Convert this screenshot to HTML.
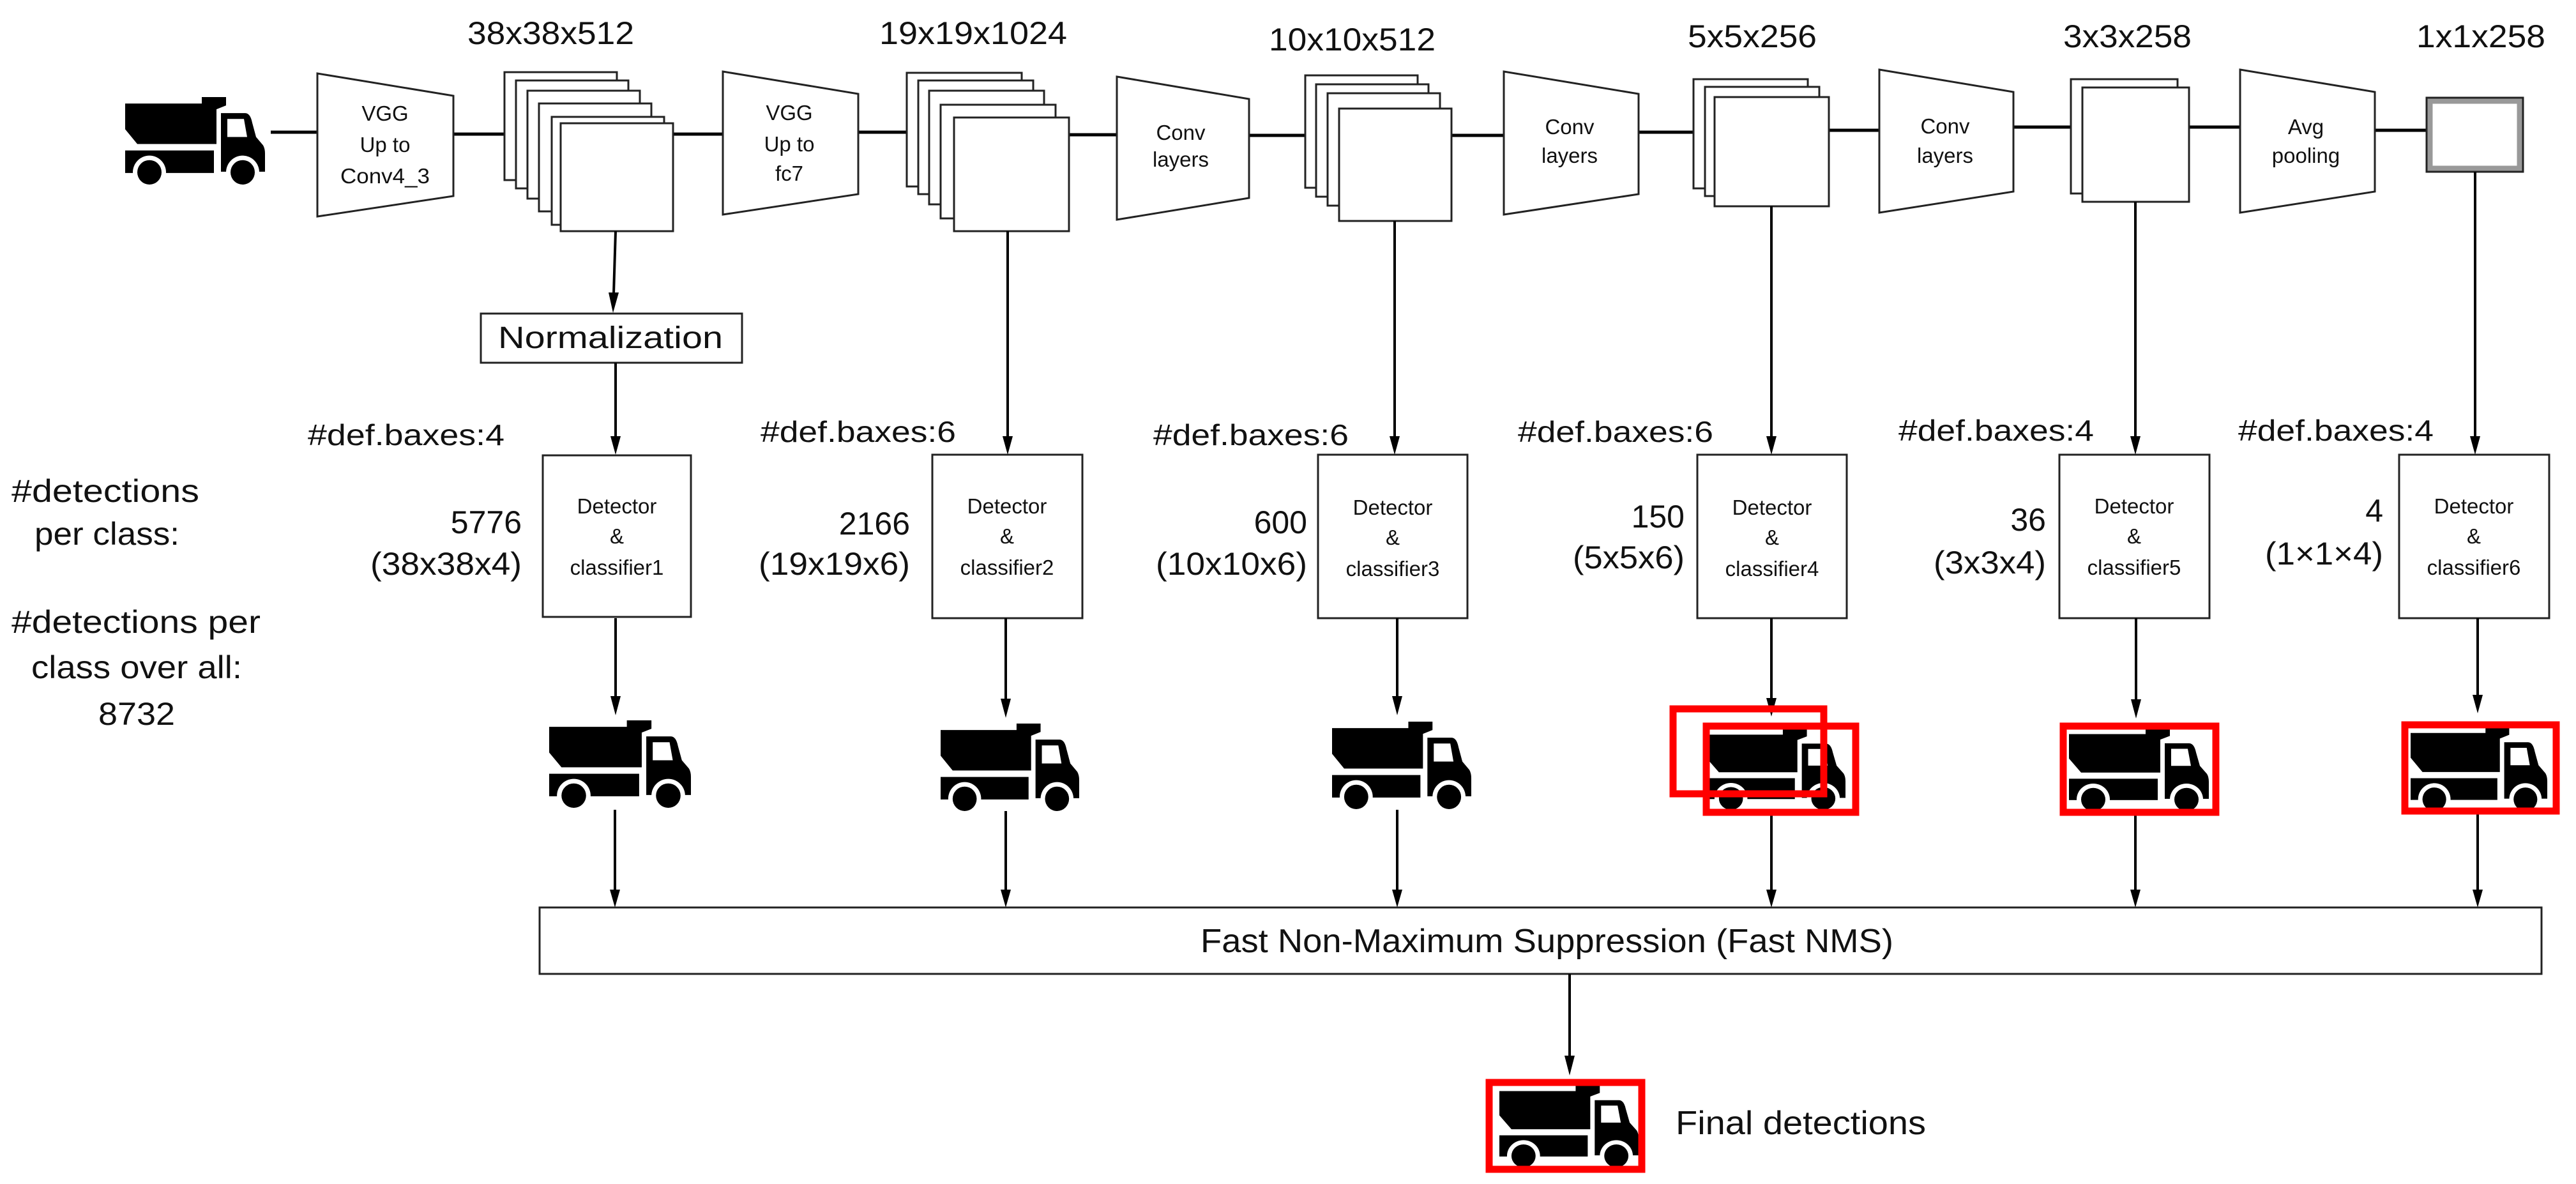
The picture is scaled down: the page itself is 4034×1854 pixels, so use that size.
<!DOCTYPE html>
<html><head><meta charset="utf-8"><style>
html,body{margin:0;padding:0;background:#fff;}
svg{display:block;}
text{font-family:"Liberation Sans",sans-serif;fill:#111;}
</style></head><body>
<svg width="4034" height="1854" viewBox="0 0 4034 1854" xmlns="http://www.w3.org/2000/svg">
<defs>
<symbol id="truck" viewBox="0 0 220 137" preserveAspectRatio="none">
<path d="M0,10 H120 V0 H158 V13 L143,19 V73 H19 L0,50 Z" fill="#000"/>
<rect x="0" y="83" width="139" height="35" fill="#000"/>
<path d="M150,25 H188 Q196,25 199,40 L205,62 L216,75 Q219,80 219,88 V116 H150 Z" fill="#000"/>
<path d="M160,34 H186 L191,62 H160 Z" fill="#fff"/>
<circle cx="38" cy="117" r="26" fill="#fff"/>
<circle cx="184" cy="117" r="26" fill="#fff"/>
<circle cx="38" cy="117" r="19" fill="#000"/>
<circle cx="184" cy="117" r="19" fill="#000"/>
</symbol>
<marker id="ah" markerWidth="8" markerHeight="10" refX="8" refY="5" orient="auto" markerUnits="userSpaceOnUse" viewBox="0 0 8 10">
</marker>
</defs>

<g stroke="#000" stroke-width="5" fill="none">
<line x1="424" y1="207" x2="497" y2="207"/>
<line x1="710" y1="210" x2="790" y2="210"/>
<line x1="1054" y1="210" x2="1132" y2="210"/>
<line x1="1344" y1="207" x2="1420" y2="207"/>
<line x1="1674" y1="211" x2="1749" y2="211"/>
<line x1="1956" y1="212" x2="2044" y2="212"/>
<line x1="2273" y1="212" x2="2355" y2="212"/>
<line x1="2566" y1="207" x2="2652" y2="207"/>
<line x1="2864" y1="204" x2="2943" y2="204"/>
<line x1="3153" y1="199" x2="3243" y2="199"/>
<line x1="3426" y1="199" x2="3508" y2="199"/>
<line x1="3719" y1="204" x2="3800" y2="204"/>
</g>

<use href="#truck" x="196" y="152" width="220" height="138"/>

<g stroke="#222" stroke-width="3" fill="#fff">
<polygon points="497,115 710,150 710,307 497,339"/>
<polygon points="1132,112 1344,147 1344,304 1132,336"/>
<polygon points="1749,120 1956,155 1956,310 1749,344"/>
<polygon points="2355,112 2566,147 2566,304 2355,336"/>
<polygon points="2943,109 3153,144 3153,300 2943,333"/>
<polygon points="3508,109 3719,144 3719,300 3508,333"/>
<!-- stack 38 -->
<rect x="790" y="113" width="176" height="169"/>
<rect x="808" y="126" width="176" height="169"/>
<rect x="826" y="142" width="176" height="169"/>
<rect x="844" y="162" width="176" height="169"/>
<rect x="864" y="183" width="176" height="169"/>
<rect x="878" y="193" width="176" height="169"/>
<!-- stack 19 -->
<rect x="1420" y="114" width="180" height="178"/>
<rect x="1438" y="126" width="180" height="178"/>
<rect x="1455" y="142" width="180" height="178"/>
<rect x="1473" y="164" width="180" height="178"/>
<rect x="1494" y="184" width="180" height="178"/>
<!-- stack 10 -->
<rect x="2044" y="118" width="176" height="176"/>
<rect x="2061" y="132" width="176" height="176"/>
<rect x="2079" y="146" width="176" height="176"/>
<rect x="2097" y="170" width="176" height="176"/>
<!-- stack 5 -->
<rect x="2652" y="124" width="179" height="171"/>
<rect x="2670" y="136" width="179" height="171"/>
<rect x="2685" y="152" width="179" height="171"/>
<!-- stack 3 -->
<rect x="3243" y="124" width="167" height="179"/>
<rect x="3261" y="137" width="167" height="179"/>
<!-- normalization -->
<rect x="753" y="491" width="409" height="77"/>
<!-- detectors -->
<rect x="850" y="713" width="232" height="253"/>
<rect x="1460" y="712" width="235" height="256"/>
<rect x="2064" y="712" width="234" height="256"/>
<rect x="2658" y="712" width="234" height="256"/>
<rect x="3225" y="712" width="235" height="256"/>
<rect x="3757" y="712" width="235" height="256"/>
<!-- NMS -->
<rect x="845" y="1421" width="3135" height="104"/>
</g>
<rect x="3805" y="158" width="141" height="106" fill="#fff" stroke="#999" stroke-width="9"/>
<rect x="3800" y="153" width="151" height="116" fill="none" stroke="#222" stroke-width="3"/>

<!-- arrows -->
<g stroke="#000" stroke-width="4">
<line x1="964" y1="362" x2="961" y2="460"/>
<line x1="964" y1="568" x2="964" y2="685"/>
<line x1="1578" y1="362" x2="1578" y2="685"/>
<line x1="2184" y1="346" x2="2184" y2="685"/>
<line x1="2774" y1="323" x2="2774" y2="685"/>
<line x1="3344" y1="316" x2="3344" y2="685"/>
<line x1="3876" y1="269" x2="3876" y2="685"/>
<line x1="964" y1="968" x2="964" y2="1092"/>
<line x1="1575" y1="968" x2="1575" y2="1096"/>
<line x1="2188" y1="968" x2="2188" y2="1092"/>
<line x1="2774" y1="968" x2="2774" y2="1095"/>
<line x1="3345" y1="968" x2="3345" y2="1097"/>
<line x1="3880" y1="968" x2="3880" y2="1090"/>
<line x1="963" y1="1268" x2="963" y2="1395"/>
<line x1="1575" y1="1270" x2="1575" y2="1395"/>
<line x1="2188" y1="1268" x2="2188" y2="1395"/>
<line x1="2774" y1="1277" x2="2774" y2="1395"/>
<line x1="3344" y1="1277" x2="3344" y2="1395"/>
<line x1="3880" y1="1275" x2="3880" y2="1395"/>
<line x1="2458" y1="1525" x2="2458" y2="1655"/>
</g>
<g fill="#000">
<polygon points="953,458 969,458 960,490"/>
<polygon points="956,683 972,683 964,712"/>
<polygon points="1570,683 1586,683 1578,712"/>
<polygon points="2176,683 2192,683 2184,712"/>
<polygon points="2766,683 2782,683 2774,712"/>
<polygon points="3336,683 3352,683 3344,712"/>
<polygon points="3868,683 3884,683 3876,712"/>
<polygon points="956,1090 972,1090 964,1120"/>
<polygon points="1567,1094 1583,1094 1575,1124"/>
<polygon points="2180,1090 2196,1090 2188,1120"/>
<polygon points="2766,1093 2782,1093 2774,1122"/>
<polygon points="3337,1095 3353,1095 3345,1125"/>
<polygon points="3872,1088 3888,1088 3880,1117"/>
<polygon points="955,1393 971,1393 963,1421"/>
<polygon points="1567,1393 1583,1393 1575,1421"/>
<polygon points="2180,1393 2196,1393 2188,1421"/>
<polygon points="2766,1393 2782,1393 2774,1421"/>
<polygon points="3336,1393 3352,1393 3344,1421"/>
<polygon points="3872,1393 3888,1393 3880,1421"/>
<polygon points="2450,1653 2466,1653 2458,1684"/>
</g>

<!-- trucks bottom -->
<use href="#truck" x="860" y="1128" width="223" height="138"/>
<use href="#truck" x="1473" y="1133" width="218" height="138"/>
<use href="#truck" x="2086" y="1130" width="219" height="138"/>
<use href="#truck" x="2673" y="1141" width="218" height="128"/>
<use href="#truck" x="3240" y="1140" width="220" height="131"/>
<use href="#truck" x="3775" y="1138" width="215" height="133"/>
<use href="#truck" x="2348" y="1699" width="219" height="130"/>
<g fill="none" stroke="#f00" stroke-width="11">
<rect x="2620" y="1110" width="236" height="133"/>
<rect x="2672" y="1137" width="234" height="135"/>
<rect x="3231" y="1137" width="239" height="135"/>
<rect x="3766" y="1135" width="237" height="135"/>
<rect x="2332" y="1695" width="239" height="136"/>
</g>

<!-- labels -->
<g font-size="50">
<text x="732" y="69" textLength="261" lengthAdjust="spacingAndGlyphs">38x38x512</text>
<text x="1377" y="69" textLength="294" lengthAdjust="spacingAndGlyphs">19x19x1024</text>
<text x="1987" y="79" textLength="261" lengthAdjust="spacingAndGlyphs">10x10x512</text>
<text x="2643" y="74" textLength="202" lengthAdjust="spacingAndGlyphs">5x5x256</text>
<text x="3231" y="74" textLength="201" lengthAdjust="spacingAndGlyphs">3x3x258</text>
<text x="3784" y="74" textLength="202" lengthAdjust="spacingAndGlyphs">1x1x258</text>
</g>
<g font-size="33" text-anchor="middle" fill="#222">
<text x="603" y="189">VGG</text>
<text x="603" y="238">Up to</text>
<text x="603" y="287" textLength="140" lengthAdjust="spacingAndGlyphs">Conv4_3</text>
<text x="1236" y="188">VGG</text>
<text x="1236" y="237">Up to</text>
<text x="1236" y="283">fc7</text>
<text x="1849" y="219">Conv</text>
<text x="1849" y="261">layers</text>
<text x="2458" y="210">Conv</text>
<text x="2458" y="255">layers</text>
<text x="3046" y="209">Conv</text>
<text x="3046" y="255">layers</text>
<text x="3611" y="210">Avg</text>
<text x="3611" y="255">pooling</text>
</g>
<text x="780" y="545" font-size="48" textLength="352" lengthAdjust="spacingAndGlyphs">Normalization</text>
<g font-size="46">
<text x="482" y="697" textLength="308" lengthAdjust="spacingAndGlyphs">#def.baxes:4</text>
<text x="1191" y="692" textLength="306" lengthAdjust="spacingAndGlyphs">#def.baxes:6</text>
<text x="1806" y="697" textLength="306" lengthAdjust="spacingAndGlyphs">#def.baxes:6</text>
<text x="2377" y="692" textLength="306" lengthAdjust="spacingAndGlyphs">#def.baxes:6</text>
<text x="2973" y="690" textLength="306" lengthAdjust="spacingAndGlyphs">#def.baxes:4</text>
<text x="3505" y="690" textLength="306" lengthAdjust="spacingAndGlyphs">#def.baxes:4</text>
</g>
<g font-size="33" text-anchor="middle" fill="#222">
<text x="966" y="804">Detector</text><text x="966" y="851">&amp;</text><text x="966" y="900">classifier1</text>
<text x="1577" y="804">Detector</text><text x="1577" y="851">&amp;</text><text x="1577" y="900">classifier2</text>
<text x="2181" y="806">Detector</text><text x="2181" y="853">&amp;</text><text x="2181" y="902">classifier3</text>
<text x="2775" y="806">Detector</text><text x="2775" y="853">&amp;</text><text x="2775" y="902">classifier4</text>
<text x="3342" y="804">Detector</text><text x="3342" y="851">&amp;</text><text x="3342" y="900">classifier5</text>
<text x="3874" y="804">Detector</text><text x="3874" y="851">&amp;</text><text x="3874" y="900">classifier6</text>
</g>
<g font-size="50" text-anchor="end">
<text x="817" y="835">5776</text><text x="817" y="900" textLength="237" lengthAdjust="spacingAndGlyphs">(38x38x4)</text>
<text x="1425" y="837">2166</text><text x="1425" y="900" textLength="237" lengthAdjust="spacingAndGlyphs">(19x19x6)</text>
<text x="2047" y="835">600</text><text x="2047" y="900" textLength="237" lengthAdjust="spacingAndGlyphs">(10x10x6)</text>
<text x="2638" y="826">150</text><text x="2638" y="890" textLength="175" lengthAdjust="spacingAndGlyphs">(5x5x6)</text>
<text x="3204" y="831">36</text><text x="3204" y="898" textLength="176" lengthAdjust="spacingAndGlyphs">(3x3x4)</text>
<text x="3732" y="817">4</text><text x="3732" y="884" textLength="185" lengthAdjust="spacingAndGlyphs">(1×1×4)</text>
</g>
<g font-size="50">
<text x="18" y="786" textLength="294" lengthAdjust="spacingAndGlyphs">#detections</text>
<text x="54" y="853" textLength="227" lengthAdjust="spacingAndGlyphs">per class:</text>
<text x="18" y="991" textLength="390" lengthAdjust="spacingAndGlyphs">#detections per</text>
<text x="49" y="1062" textLength="330" lengthAdjust="spacingAndGlyphs">class over all:</text>
<text x="154" y="1135" textLength="120" lengthAdjust="spacingAndGlyphs">8732</text>
</g>
<text x="1880" y="1491" font-size="52" textLength="1085" lengthAdjust="spacingAndGlyphs">Fast Non-Maximum Suppression (Fast NMS)</text>
<text x="2624" y="1776" font-size="52" textLength="392" lengthAdjust="spacingAndGlyphs">Final detections</text>
</svg>
</body></html>
